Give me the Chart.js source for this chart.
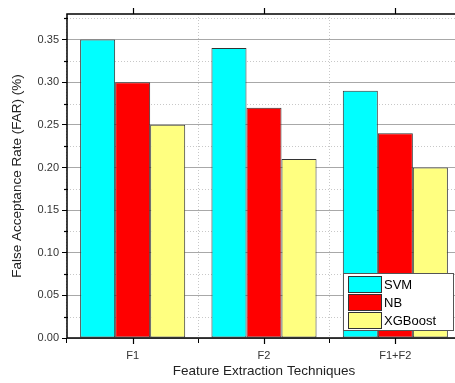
<!DOCTYPE html>
<html>
<head>
<meta charset="utf-8">
<script src="https://cdn.jsdelivr.net/npm/chart.js@4.4.0/dist/chart.umd.min.js"></script>
<style>
  html, body { margin: 0; padding: 0; background: #fff; overflow: hidden; }
  #wrap { width: 470px; height: 383px; }
</style>
</head>
<body>
<div id="wrap"><canvas id="myChart" width="470" height="383"></canvas></div>
<script>
const labels = ["F1", "F2", "F1+F2"];
const svm = [0.35, 0.34, 0.29];
const nb = [0.30, 0.27, 0.24];
const xgb = [0.25, 0.21, 0.20];
const yTicks = [0, 0.05, 0.10, 0.15, 0.20, 0.25, 0.30, 0.35];
const yMinor = [0.025, 0.075, 0.125, 0.175, 0.225, 0.275, 0.325, 0.375];

const font = "'Liberation Sans', Arial, sans-serif";

// frame, minor grid, extra ticks and the boxed legend
const extras = {
  id: "extras",
  beforeDatasetsDraw(chart) {
    const c = chart.ctx, a = chart.chartArea, y = chart.scales.y;
    c.save();
    c.strokeStyle = "#c8c8c8";
    c.lineWidth = 1;
    c.setLineDash([1, 2]);
    yMinor.forEach(v => {
      const py = Math.round(y.getPixelForValue(v)) + 0.5;
      c.beginPath(); c.moveTo(a.left, py); c.lineTo(a.right, py); c.stroke();
    });
    c.restore();
  },
  afterDraw(chart) {
    const c = chart.ctx, a = chart.chartArea, x = chart.scales.x, y = chart.scales.y;
    c.save();
    c.strokeStyle = "#000";
    c.lineWidth = 1.5;
    c.strokeRect(a.left, a.top, a.right - a.left, a.bottom - a.top);
    c.lineWidth = 1.2;
    labels.forEach((l, i) => {
      const px = Math.round(x.getPixelForValue(i)) + 0.5;
      c.beginPath(); c.moveTo(px, a.bottom); c.lineTo(px, a.bottom + 6); c.stroke();
      c.beginPath(); c.moveTo(px, a.top); c.lineTo(px, a.top - 6); c.stroke();
    });
    yMinor.forEach(v => {
      const py = Math.round(y.getPixelForValue(v)) + 0.5;
      if (py < a.top) return;
      c.beginPath(); c.moveTo(a.left - 3, py); c.lineTo(a.left + 1, py); c.stroke();
    });
    // legend
    const lx = 343, ly = 273, lw = 110, lh = 57;
    c.fillStyle = "#fff";
    c.fillRect(lx, ly, lw, lh);
    c.strokeStyle = "#555";
    c.lineWidth = 1;
    c.strokeRect(lx + 0.5, ly + 0.5, lw, lh);
    c.font = "13px " + font;
    c.textBaseline = "middle";
    chart.data.datasets.forEach((ds, i) => {
      const ry = ly + 3 + i * 18;
      c.fillStyle = ds.backgroundColor;
      c.fillRect(lx + 5, ry, 33, 16);
      c.strokeStyle = "#333";
      c.strokeRect(lx + 5.5, ry + 0.5, 33, 16);
      c.fillStyle = "#000";
      c.fillText(ds.label, lx + 41, ry + 9);
    });
    c.restore();
  }
};

const data = {
  labels: labels,
  datasets: [
    { label: "SVM", data: svm, backgroundColor: "#00FFFF" },
    { label: "NB", data: nb, backgroundColor: "#FF0000" },
    { label: "XGBoost", data: xgb, backgroundColor: "#FFFF80" }
  ].map(d => Object.assign(d, {
    borderColor: "#333", borderWidth: 1, borderSkipped: false,
    categoryPercentage: 0.8, barPercentage: 1.0
  }))
};

const myChart = new Chart("myChart", {
  type: "bar",
  data: data,
  plugins: [extras],
  options: {
    responsive: false,
    animation: false,
    layout: { padding: { left: 5, top: 14, right: 9, bottom: 0 } },
    plugins: { legend: { display: false }, tooltip: { enabled: false } },
    scales: {
      x: {
        afterFit: s => { s.height = 45; },
        grid: { color: "#c8c8c8", tickColor: "#000", tickLength: 5, offset: true, lineWidth: 1 },
        border: { display: false, dash: [1, 2] },
        ticks: { color: "#333", font: { family: font, size: 11 }, padding: 6 },
        title: { display: true, text: "Feature Extraction Techniques", color: "#222",
                 font: { family: font, size: 13.5 }, padding: { top: 5 } }
      },
      y: {
        min: 0, max: 0.38,
        afterFit: s => { s.width = 62; },
        afterBuildTicks: s => { s.ticks = yTicks.map(v => ({ value: v })); },
        grid: { color: "#a8a8a8", tickColor: "#000", tickLength: 5, lineWidth: 1 },
        border: { display: false },
        ticks: { color: "#333", font: { family: font, size: 11 }, padding: 3,
                 callback: v => v.toFixed(2) },
        title: { display: true, text: "False Acceptance Rate (FAR) (%)", color: "#222",
                 font: { family: font, size: 13.5 }, padding: { bottom: 2 } }
      }
    }
  }
});
</script>
</body>
</html>
